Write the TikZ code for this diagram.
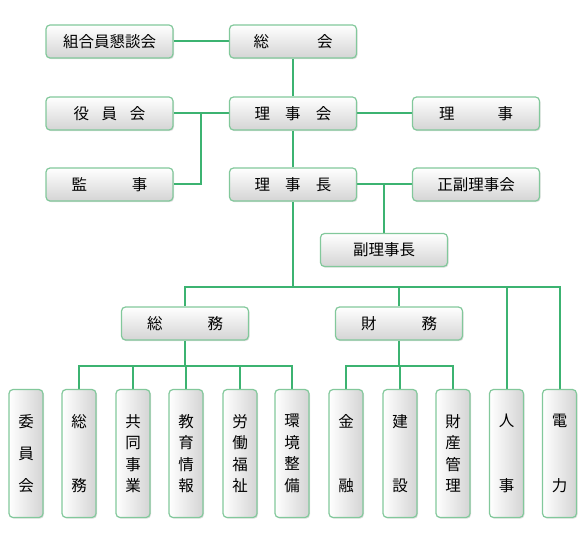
\documentclass[tikz,border=0pt]{standalone}
\usepackage{fontspec}
\setmainfont{Noto Sans CJK JP}
\usetikzlibrary{shadows,backgrounds}
\definecolor{ln}{RGB}{60,179,113}
\definecolor{bd}{RGB}{130,200,155}
\definecolor{gb}{RGB}{212,212,212}
\newcommand\spreadtxt[2]{\makebox[#1pt]{#2}}
\begin{document}
\begin{tikzpicture}[x=1pt,y=-1pt,
  boxbase/.style={rectangle, rounded corners=4pt, draw=bd, line width=1.2pt,
    inner sep=0pt, font=\fontsize{15.5}{17}\selectfont,
    drop shadow={opacity=0.25, shadow xshift=1pt, shadow yshift=-1.2pt}},
  hbox/.style={boxbase, top color=white, bottom color=gb, minimum width=127pt, minimum height=33pt},
  vbx/.style={boxbase, left color=white, right color=gb, minimum width=34pt, minimum height=128pt},
  conn/.style={draw=ln, line width=2pt}]
\useasboundingbox (0,0) rectangle (585,534);

% upper boxes
\node[hbox] (kondan) at (109.5,41.5) {組合員懇談会};
\node[hbox] (sokai) at (293,41.5) {\spreadtxt{79}{総\hfill 会}};
\node[hbox] (yakuin) at (109.5,113.5) {\spreadtxt{72}{役\hfill 員\hfill 会}};
\node[hbox] (rijikai) at (293,113.5) {\spreadtxt{77}{理\hfill 事\hfill 会}};
\node[hbox] (riji) at (476,113.5) {\spreadtxt{74}{理\hfill 事}};
\node[hbox] (kanji) at (109.5,184.5) {\spreadtxt{76}{監\hfill 事}};
\node[hbox] (rijicho) at (293,184.5) {\spreadtxt{77}{理\hfill 事\hfill 長}};
\node[hbox] (seifuku) at (476,184.5) {正副理事会};
\node[hbox] (fukuriji) at (384,250) {副理事長};
\node[hbox] (somu) at (185,323.5) {\spreadtxt{76}{総\hfill 務}};
\node[hbox] (zaimu) at (399,323.5) {\spreadtxt{76}{財\hfill 務}};

% bottom vertical boxes
\node[vbx] (iinkai) at (26,453.5) {\vbox to 77pt{\hbox{委}\vfill\hbox{員}\vfill\hbox{会}}};
\node[vbx] (vsomu) at (79,453.5) {\vbox to 77pt{\hbox{総}\vfill\hbox{務}}};
\node[vbx] (kyodo) at (133,453.5) {\vbox to 77pt{\hbox{共}\vfill\hbox{同}\vfill\hbox{事}\vfill\hbox{業}}};
\node[vbx] (kyoiku) at (186,453.5) {\vbox to 77pt{\hbox{教}\vfill\hbox{育}\vfill\hbox{情}\vfill\hbox{報}}};
\node[vbx] (rodo) at (240,453.5) {\vbox to 77pt{\hbox{労}\vfill\hbox{働}\vfill\hbox{福}\vfill\hbox{祉}}};
\node[vbx] (kankyo) at (292,453.5) {\vbox to 77pt{\hbox{環}\vfill\hbox{境}\vfill\hbox{整}\vfill\hbox{備}}};
\node[vbx] (kinyu) at (346,453.5) {\vbox to 77pt{\hbox{金}\vfill\hbox{融}}};
\node[vbx] (kensetsu) at (400,453.5) {\vbox to 77pt{\hbox{建}\vfill\hbox{設}}};
\node[vbx] (zaisan) at (453,453.5) {\vbox to 77pt{\hbox{財}\vfill\hbox{産}\vfill\hbox{管}\vfill\hbox{理}}};
\node[vbx] (jinji) at (506.5,453.5) {\vbox to 77pt{\hbox{人}\vfill\hbox{事}}};
\node[vbx] (denryoku) at (559.5,453.5) {\vbox to 77pt{\hbox{電}\vfill\hbox{力}}};

\coordinate (j1) at (201,113.5);
\coordinate (bus1) at (293,287);
\coordinate (bus2) at (0,366);

\begin{scope}[on background layer]
\draw[conn] (kondan.east) -- (sokai.west);
\draw[conn] (sokai.south) -- (rijikai.north);
\draw[conn] (yakuin.east) -- (rijikai.west);
\draw[conn] (j1) |- (kanji.east);
\draw[conn] (rijikai.east) -- (riji.west);
\draw[conn] (rijikai.south) -- (rijicho.north);
\draw[conn] (rijicho.east) -- (seifuku.west);
\draw[conn] (fukuriji.north) -- (fukuriji.north |- rijicho.east);
\draw[conn] (rijicho.south) -- (bus1);
\draw[conn] (somu.north) -- (somu.north |- bus1) -- (denryoku.north |- bus1) -- (denryoku.north);
\draw[conn] (zaimu.north) -- (zaimu.north |- bus1);
\draw[conn] (jinji.north) -- (jinji.north |- bus1);
\draw[conn] (somu.south) -- (somu.south |- bus2);
\draw[conn] (vsomu.north) -- (vsomu.north |- bus2) -- (kankyo.north |- bus2) -- (kankyo.north);
\draw[conn] (kyodo.north) -- (kyodo.north |- bus2);
\draw[conn] (kyoiku.north) -- (kyoiku.north |- bus2);
\draw[conn] (rodo.north) -- (rodo.north |- bus2);
\draw[conn] (zaimu.south) -- (zaimu.south |- bus2);
\draw[conn] (kinyu.north) -- (kinyu.north |- bus2) -- (zaisan.north |- bus2) -- (zaisan.north);
\draw[conn] (kensetsu.north) -- (kensetsu.north |- bus2);
\end{scope}
\end{tikzpicture}
\end{document}
